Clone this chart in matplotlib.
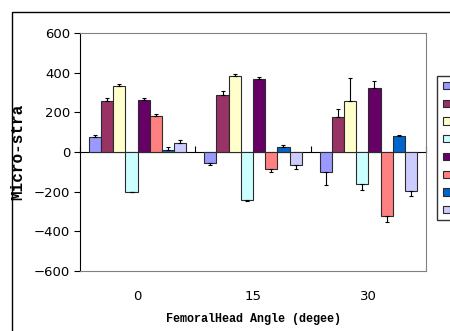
import matplotlib
matplotlib.use("Agg")

import matplotlib.pyplot as plt
import numpy as np
from matplotlib.patches import Rectangle, Patch

# =====================
# Data
# =====================
angles = ["0", "15", "30"]
series_colors = ["#9999FF", "#993366", "#FFFFCC", "#CCFFFF",
                 "#660066", "#FF8080", "#0066CC", "#CCCCFF"]

s1 = [74, -56, -103]
s2 = [258, 288, 177]
s3 = [335, 386, 260]
s4 = [-200, -244, -160]
s5 = [263, 367, 322]
s6 = [180, -88, -324]
s7 = [12, 25, 83]
s8 = [44, -67, -195]

e1 = [10, 11, 65]
e2 = [15, 19, 40]
e3 = [8, 10, 113]
e4 = [2, 5, 34]
e5 = [8, 10, 35]
e6 = [14, 12, 32]
e7 = [13, 12, 5]
e8 = [18, 20, 27]

values = [s1, s2, s3, s4, s5, s6, s7, s8]
errors = [e1, e2, e3, e4, e5, e6, e7, e8]

# =====================
# Plot
# =====================
fig = plt.figure(figsize=(4.5, 3.31), dpi=100)
ax = fig.add_axes([0.1778, 0.1822, 0.7689, 0.7172])

# chart border (cut off at right / bottom like the original)
fig.patches.append(Rectangle((12 / 450, -0.1), 1.2, 1 - 12 / 331 + 0.1,
                             transform=fig.transFigure, fill=False,
                             edgecolor="black", linewidth=1.0))

x = np.arange(len(angles))
n = len(values)
w = 0.845 / n

for i, (vals, errs) in enumerate(zip(values, errors)):
    vals = np.array(vals, dtype=float)
    errs = np.array(errs, dtype=float)
    pos = x + (i - (n - 1) / 2) * w
    ax.bar(pos, vals, w, color=series_colors[i], edgecolor="#2b2b2b",
           linewidth=0.8, zorder=2)
    lower = np.where(vals < 0, errs, 0)
    upper = np.where(vals >= 0, errs, 0)
    ax.errorbar(pos, vals, yerr=[lower, upper], fmt="none", ecolor="black",
                elinewidth=0.8, capsize=1.5, capthick=0.8, zorder=3)

ax.set_xlim(-0.5, 2.5)
ax.set_ylim(-600, 600)
ax.set_yticks(np.arange(-600, 601, 200))
ax.set_xticks(x)
ax.set_xticklabels(angles)
ax.tick_params(axis="x", length=0, pad=14, labelsize=9.5)
ax.tick_params(axis="y", length=4, width=0.8, direction="out", labelsize=9.5, pad=3)

for side in ["top", "right", "bottom"]:
    ax.spines[side].set_color("#808080")
    ax.spines[side].set_linewidth(0.8)
ax.spines["left"].set_color("black")
ax.spines["left"].set_linewidth(0.8)

# category axis crossing at zero, with tick marks between groups
zero_ax = ax.secondary_xaxis(0.5)
zero_ax.set_xticks(np.arange(-0.5, 3.0, 1.0))
zero_ax.set_xticklabels([])
zero_ax.tick_params(direction="out", length=4, width=0.8, color="black")
zero_ax.spines["bottom"].set_color("black")
zero_ax.spines["bottom"].set_linewidth(0.8)

ax.set_ylabel("Micro-stra", family="Liberation Mono", fontweight="bold",
              fontsize=11.5, labelpad=6)
ax.set_xlabel("FemoralHead Angle (degee)", family="Liberation Mono",
              fontweight="bold", fontsize=8.5, labelpad=7)

handles = [Patch(facecolor=c, edgecolor="#2b2b2b", linewidth=0.8)
           for c in series_colors]
fig.legend(handles, [""] * n, loc="upper left",
           bbox_to_anchor=(437 / 450, 1 - 75.5 / 331),
           frameon=True, fancybox=False, edgecolor="black",
           handlelength=0.8, handleheight=1.0, labelspacing=1.05,
           borderpad=0.7, handletextpad=0.3, fontsize=6,
           borderaxespad=0)

fig.savefig("out.png", dpi=100)
